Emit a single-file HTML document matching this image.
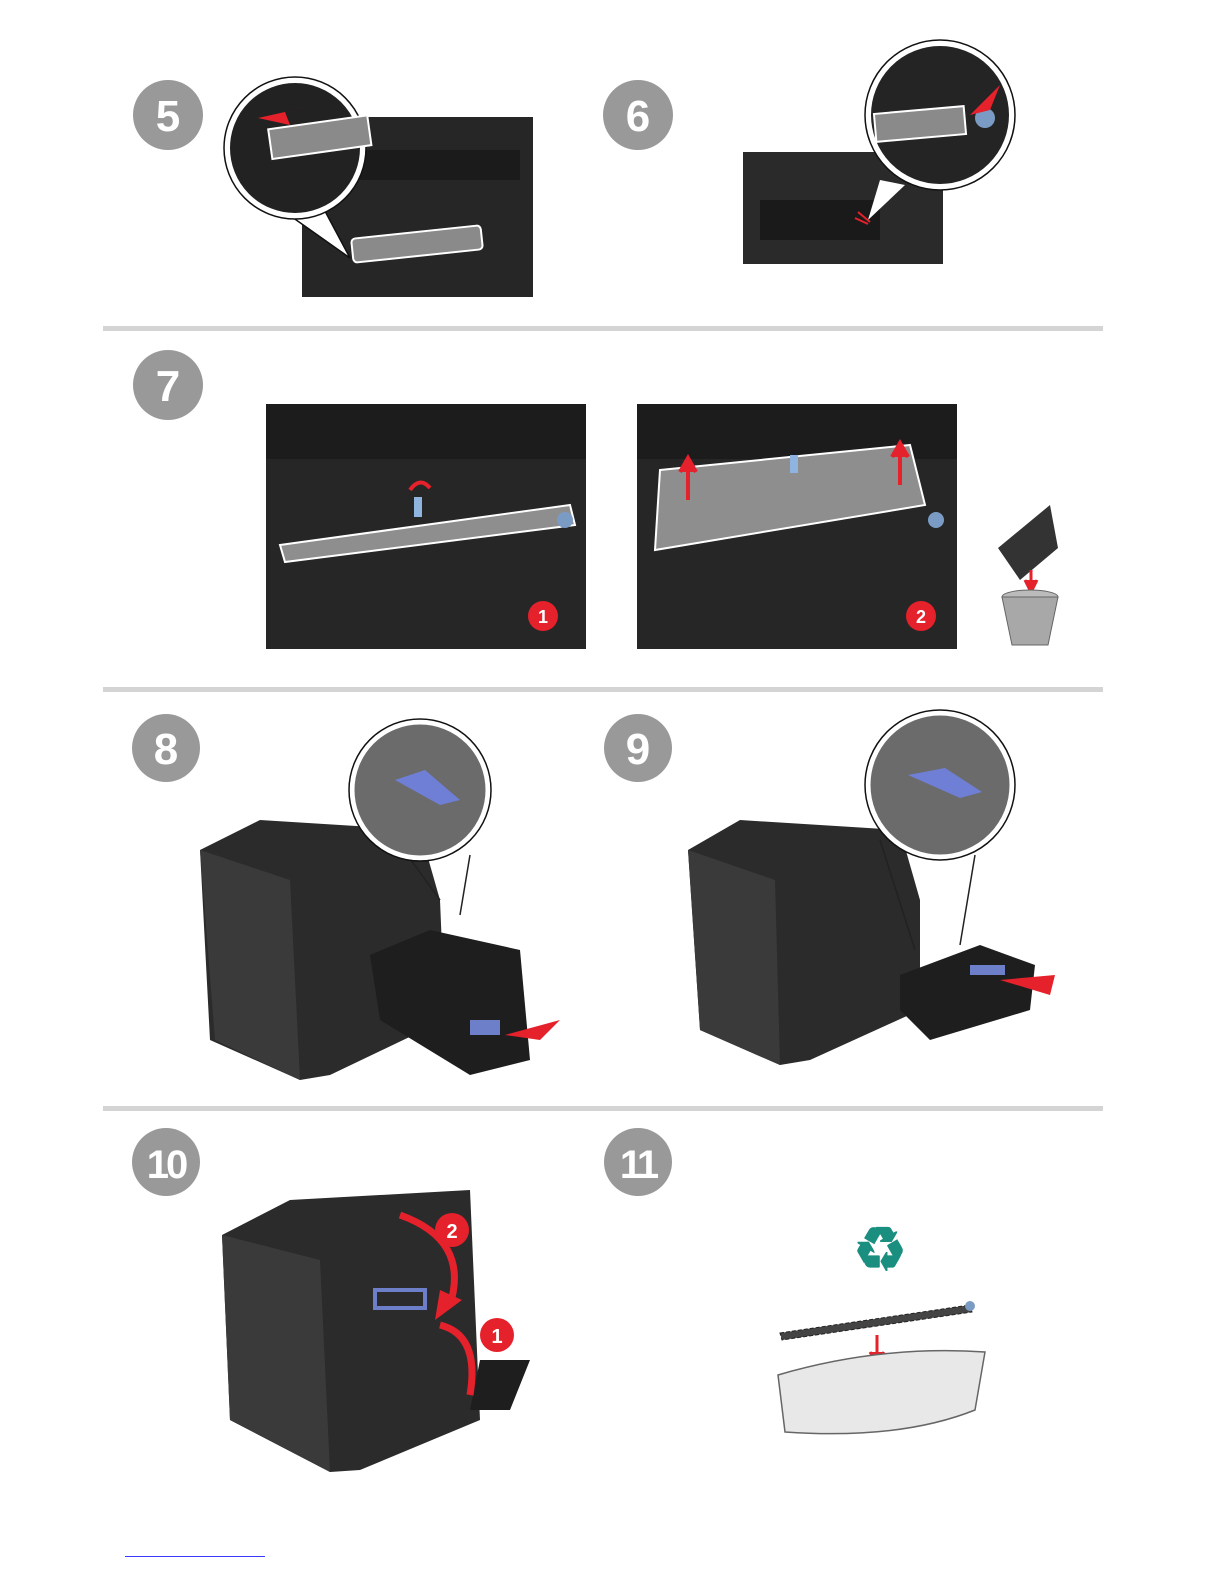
<!DOCTYPE html>
<html><head><meta charset="utf-8"><style>
html,body{margin:0;padding:0;background:#fff}
svg{display:block}
text{font-family:"Liberation Sans",sans-serif;font-weight:bold}
</style></head><body>
<svg width="1225" height="1585" viewBox="0 0 1225 1585" xmlns="http://www.w3.org/2000/svg">
<rect x="103" y="326" width="1000" height="5" fill="#d4d4d4"/>
<rect x="103" y="687" width="1000" height="5" fill="#d4d4d4"/>
<rect x="103" y="1106" width="1000" height="5" fill="#d4d4d4"/>

<g fill="#999">
<circle cx="168" cy="115" r="35"/><circle cx="638" cy="115" r="35"/>
<circle cx="168" cy="385" r="35"/><circle cx="166" cy="748" r="34"/>
<circle cx="638" cy="748" r="34"/><circle cx="166" cy="1162" r="34"/>
<circle cx="638" cy="1162" r="34"/>
</g>
<g fill="#fff" font-size="44" text-anchor="middle">
<text x="168" y="131">5</text><text x="638" y="131">6</text>
<text x="168" y="401">7</text><text x="166" y="764">8</text>
<text x="638" y="764">9</text><text x="166" y="1178" font-size="40" letter-spacing="-3">10</text>
<text x="638" y="1178" font-size="40" letter-spacing="-3">11</text>
</g>

<!-- step 5 -->
<rect x="302" y="117" width="231" height="180" fill="#262626"/>
<rect x="340" y="150" width="180" height="30" fill="#1b1b1b"/>
<rect x="352" y="232" width="130" height="24" rx="4" fill="#8a8a8a" stroke="#fff" stroke-width="2" transform="rotate(-6 417 244)"/>
<path d="M275 205 L350 258 L318 198 Z" fill="#fff"/>
<path d="M275 205 L350 258 M318 198 L350 258" stroke="#111" stroke-width="1.5"/>
<circle cx="295" cy="148" r="68" fill="#222" stroke="#fff" stroke-width="6"/>
<circle cx="295" cy="148" r="71" fill="none" stroke="#111" stroke-width="1.5"/>
<rect x="270" y="125" width="100" height="30" fill="#8a8a8a" stroke="#fff" stroke-width="2" transform="rotate(-8 300 140)"/>
<path d="M258 118 L325 103 L285 112 L290 125 Z" fill="#e5212b"/>

<!-- step 6 -->
<rect x="743" y="152" width="200" height="112" fill="#2a2a2a"/>
<rect x="760" y="200" width="120" height="40" fill="#1a1a1a"/>
<path d="M868 220 L880 180 L905 185 Z" fill="#fff"/>
<circle cx="940" cy="115" r="72" fill="#242424" stroke="#fff" stroke-width="6"/>
<circle cx="940" cy="115" r="75" fill="none" stroke="#111" stroke-width="1.5"/>
<rect x="875" y="110" width="90" height="28" fill="#8a8a8a" stroke="#fff" stroke-width="2" transform="rotate(-5 920 124)"/>
<circle cx="985" cy="118" r="10" fill="#7a9cc4"/>
<path d="M970 115 L1000 85 L990 110 Z" fill="#e5212b"/>
<path d="M858 212 L870 222 M855 218 L868 224" stroke="#e5212b" stroke-width="2"/>

<!-- step 7 -->
<rect x="266" y="404" width="320" height="245" fill="#262626"/>
<rect x="266" y="404" width="320" height="55" fill="#1c1c1c"/>
<path d="M280 545 L570 505 L575 525 L285 562 Z" fill="#8e8e8e" stroke="#fff" stroke-width="2"/>
<circle cx="565" cy="520" r="8" fill="#7a9cc4"/>
<rect x="414" y="497" width="8" height="20" fill="#8fb4e0"/>
<path d="M410 490 Q420 476 430 488" stroke="#e5212b" stroke-width="4" fill="none"/>
<circle cx="543" cy="616" r="15" fill="#e5212b"/>
<text x="543" y="623" fill="#fff" font-size="18" text-anchor="middle">1</text>

<rect x="637" y="404" width="320" height="245" fill="#262626"/>
<rect x="637" y="404" width="320" height="55" fill="#1c1c1c"/>
<path d="M660 470 L910 445 L925 505 L655 550 Z" fill="#8e8e8e" stroke="#fff" stroke-width="2"/>
<circle cx="936" cy="520" r="8" fill="#7a9cc4"/>
<rect x="790" y="455" width="8" height="18" fill="#8fb4e0"/>
<path d="M688 500 L688 470 M680 472 L688 458 L696 472" stroke="#e5212b" stroke-width="4" fill="#e5212b"/>
<path d="M900 485 L900 455 M892 457 L900 443 L908 457" stroke="#e5212b" stroke-width="4" fill="#e5212b"/>
<circle cx="921" cy="616" r="15" fill="#e5212b"/>
<text x="921" y="623" fill="#fff" font-size="18" text-anchor="middle">2</text>

<path d="M998 548 L1050 505 L1058 548 L1020 580 Z" fill="#333"/>
<path d="M1031 570 L1031 585 M1025 580 L1031 592 L1037 580" stroke="#e5212b" stroke-width="3" fill="#e5212b"/>
<ellipse cx="1030" cy="597" rx="28" ry="7" fill="#bbb" stroke="#666"/>
<path d="M1002 597 L1012 645 L1048 645 L1058 597 Z" fill="#a8a8a8" stroke="#666"/>

<!-- step 8 -->
<path d="M200 850 L260 820 L420 830 L440 900 L445 1020 L330 1075 L300 1080 L210 1040 Z" fill="#2b2b2b"/>
<path d="M200 850 L215 1040 L300 1080 L290 880 Z" fill="#3a3a3a"/>
<path d="M370 955 L430 930 L520 950 L530 1060 L470 1075 L380 1020 Z" fill="#1e1e1e"/>
<rect x="470" y="1020" width="30" height="15" fill="#6d7fc8"/>
<path d="M505 1035 L560 1020 L540 1040 Z" fill="#e5212b"/>
<path d="M440 900 L400 845 M460 915 L470 855" stroke="#222" stroke-width="1.5"/>
<circle cx="420" cy="790" r="68" fill="#6b6b6b" stroke="#fff" stroke-width="5"/>
<circle cx="420" cy="790" r="71" fill="none" stroke="#111" stroke-width="1.5"/>
<path d="M395 780 L425 770 L460 800 L440 805 Z" fill="#6f7fd6"/>

<!-- step 9 -->
<path d="M688 850 L740 820 L900 830 L920 900 L920 1010 L810 1060 L780 1065 L700 1030 Z" fill="#2b2b2b"/>
<path d="M688 850 L700 1030 L780 1065 L775 880 Z" fill="#3a3a3a"/>
<path d="M900 975 L980 945 L1035 965 L1030 1010 L930 1040 L900 1010 Z" fill="#1e1e1e"/>
<rect x="970" y="965" width="35" height="10" fill="#6d7fc8"/>
<path d="M1000 980 L1055 975 L1050 995 Z" fill="#e5212b"/>
<path d="M915 950 L880 840 M960 945 L975 855" stroke="#222" stroke-width="1.5"/>
<circle cx="940" cy="785" r="72" fill="#6b6b6b" stroke="#fff" stroke-width="5"/>
<circle cx="940" cy="785" r="75" fill="none" stroke="#111" stroke-width="1.5"/>
<path d="M908 775 L945 768 L982 792 L960 798 Z" fill="#6f7fd6"/>

<!-- step 10 -->
<path d="M222 1235 L290 1200 L470 1190 L480 1420 L360 1470 L330 1472 L230 1420 Z" fill="#2b2b2b"/>
<path d="M222 1235 L230 1420 L330 1472 L320 1260 Z" fill="#3a3a3a"/>
<path d="M480 1360 L530 1360 L510 1410 L470 1410 Z" fill="#1e1e1e"/>
<rect x="375" y="1290" width="50" height="18" fill="none" stroke="#6d7fc8" stroke-width="4"/>
<path d="M400 1215 Q470 1240 450 1305" stroke="#e5212b" stroke-width="7" fill="none"/>
<path d="M435 1320 L440 1290 L462 1300 Z" fill="#e5212b"/>
<path d="M470 1395 Q480 1335 440 1325" stroke="#e5212b" stroke-width="7" fill="none"/>
<circle cx="452" cy="1230" r="17" fill="#e5212b"/>
<text x="452" y="1238" fill="#fff" font-size="20" text-anchor="middle">2</text>
<circle cx="497" cy="1335" r="17" fill="#e5212b"/>
<text x="497" y="1343" fill="#fff" font-size="20" text-anchor="middle">1</text>

<!-- step 11 -->
<text x="880" y="1270" fill="#1a8f80" font-size="60" text-anchor="middle" font-family="DejaVu Sans">♻</text>
<path d="M780 1333 L970 1305 L972 1312 L782 1340 Z" fill="#444" stroke="#222" stroke-dasharray="4 2"/>
<circle cx="970" cy="1306" r="5" fill="#7a9cc4"/>
<path d="M877 1335 L877 1358 M870 1352 L877 1364 L884 1352" stroke="#e5212b" stroke-width="3" fill="#e5212b"/>
<path d="M778 1375 Q880 1345 985 1352 L975 1410 Q900 1440 785 1432 Z" fill="#e8e8e8" stroke="#666" stroke-width="1.5"/>

<rect x="125" y="1556" width="140" height="1" fill="#3a3aff"/>
</svg>
</body></html>
